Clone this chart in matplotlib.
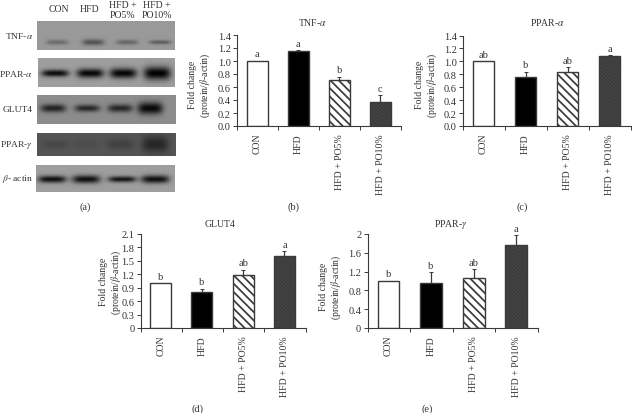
import matplotlib.pyplot as plt
import numpy as np

plt.rcParams['font.family'] = 'Liberation Serif'
plt.rcParams['font.size'] = 7
plt.rcParams['mathtext.fontset'] = 'stix'
plt.rcParams['hatch.linewidth'] = 1.25

W, H = 632, 414
GREY = '#3a3a3a'
TEXT = '#333333'

groups = ['CON', 'HFD', 'HFD + PO5%', 'HFD + PO10%']

tnf_vals = [1.0, 1.15, 0.71, 0.37]
tnf_err = [0.005, 0.015, 0.05, 0.10]
tnf_sig = ['a', 'a', 'b', 'c']
tnf_ticks = [0.0, 0.2, 0.4, 0.6, 0.8, 1.0, 1.2, 1.4]

ppara_vals = [1.0, 0.76, 0.84, 1.09]
ppara_err = [0.005, 0.08, 0.07, 0.005]
ppara_sig = ['ab', 'b', 'ab', 'a']
ppara_ticks = [0.0, 0.2, 0.4, 0.6, 0.8, 1.0, 1.2, 1.4]

glut_vals = [1.0, 0.81, 1.18, 1.60]
glut_err = [0.005, 0.07, 0.12, 0.12]
glut_sig = ['b', 'b', 'ab', 'a']
glut_ticks = [0, 0.3, 0.6, 0.9, 1.2, 1.5, 1.8, 2.1]

pparg_vals = [1.0, 0.96, 1.06, 1.77]
pparg_err = [0.005, 0.23, 0.19, 0.21]
pparg_sig = ['b', 'b', 'ab', 'a']
pparg_ticks = [0, 0.4, 0.8, 1.2, 1.6, 2]

# blot band darkness per lane
blot_names = ['TNF-$\\alpha$', 'PPAR-$\\alpha$', 'GLUT4', 'PPAR-$\\gamma$', '$\\beta$- actin']
blot_bg = [0.60, 0.62, 0.55, 0.33, 0.62]
blot_dark = [
    [0.18, 0.28, 0.20, 0.24],
    [0.58, 0.60, 0.60, 0.62],
    [0.42, 0.40, 0.40, 0.52],
    [0.05, 0.03, 0.08, 0.18],
    [0.56, 0.56, 0.54, 0.56],
]


def px_axes(fig, left, right, top, bottom):
    return fig.add_axes([left / W, 1 - bottom / H, (right - left) / W, (bottom - top) / H])


def bar_panel(fig, box, vals, err, sig, ticks, ticklabels):
    ax = px_axes(fig, *box)
    x = np.arange(4) + 0.49
    colors = ['white', 'black', 'white', '#4a4a4a']
    hatches = [None, None, '\\' * 4, '\\' * 9]
    ymax = ticks[-1]
    ax.errorbar(x, vals, yerr=[np.zeros(4), err], fmt='none', ecolor=GREY, elinewidth=0.9,
                capsize=1.5, capthick=0.7, zorder=1)
    for i in range(4):
        ax.bar(x[i], vals[i], width=0.51, color=colors[i], edgecolor=GREY, linewidth=1.0,
               hatch=hatches[i], zorder=2)
        ax.text(x[i], vals[i] + err[i] + ymax * 0.025, sig[i], ha='center', va='bottom', color=TEXT,
                fontsize=7.5, clip_on=False)
    ax.set_xlim(0, 4)
    ax.set_ylim(0, ymax)
    ax.set_yticks(ticks)
    ax.set_yticklabels(ticklabels, fontsize=7.5)
    ax.set_xticks(np.arange(5))
    ax.set_xticklabels([])
    ax.set_xticks(x, minor=True)
    ax.set_xticklabels(groups, minor=True, rotation=90)
    ax.tick_params(axis='x', which='minor', length=0, pad=5, colors=TEXT)
    ax.tick_params(axis='both', which='major', length=3, width=0.7, color=GREY, labelcolor=TEXT, pad=1.5)
    ax.spines['top'].set_visible(False)
    ax.spines['right'].set_visible(False)
    ax.spines['left'].set_color(GREY)
    ax.spines['bottom'].set_color(GREY)
    ax.patch.set_alpha(0)
    return ax


fig = plt.figure(figsize=(W / 100, H / 100), dpi=100)

bar_panel(fig, (237, 401, 36, 127), tnf_vals, tnf_err, tnf_sig, tnf_ticks, [f'{t:.1f}' for t in tnf_ticks])
bar_panel(fig, (463, 631, 36.5, 127), ppara_vals, ppara_err, ppara_sig, ppara_ticks, [f'{t:.1f}' for t in ppara_ticks])
bar_panel(fig, (140.5, 305.5, 235, 329), glut_vals, glut_err, glut_sig, glut_ticks, ['0'] + [f'{t:.1f}' for t in glut_ticks[1:]])
bar_panel(fig, (367.5, 538, 235, 329), pparg_vals, pparg_err, pparg_sig, pparg_ticks, ['0', '0.4', '0.8', '1.2', '1.6', '2'])

# overlay in pixel coordinates for blots and free text
ov = fig.add_axes([0, 0, 1, 1], zorder=5)
ov.set_xlim(0, W)
ov.set_ylim(H, 0)
ov.axis('off')
ov.patch.set_alpha(0)

blot_boxes = [(37, 175, 22, 51), (38, 175, 59, 88), (37, 176, 96, 125), (37, 176, 134, 157), (36, 175, 166, 193)]
blot_lanes = [[57, 93, 127, 160], [55, 90, 123, 157], [53, 87, 120, 150], [55, 85, 120, 155], [52, 86, 122, 155]]
band_y = [43, 74, 109, 145, 180]
band_hw = [11, 13.5, 12.5, 13, 14]
band_hh = [
    [2.5, 3, 2.5, 2],
    [3.5, 4.5, 5, 6.5],
    [4, 3.5, 4, 6],
    [4, 4, 5, 8],
    [3.5, 4, 3, 4],
]
label_y = [36, 74, 110, 145, 179]

for b in range(5):
    x0, x1, y0, y1 = blot_boxes[b]
    xx, yy = np.meshgrid(np.arange(x0, x1, 0.5), np.arange(y0, y1, 0.5))
    img = np.full(xx.shape, blot_bg[b])
    for lane in range(4):
        d = ((xx - blot_lanes[b][lane]) / band_hw[b]) ** 4 + ((yy - band_y[b]) / band_hh[b][lane]) ** 2
        img = img - blot_dark[b][lane] * np.exp(-d)
    ov.imshow(img, cmap='gray', vmin=0, vmax=1, extent=(x0, x1, y1, y0), aspect='auto', interpolation='bilinear')
    ov.text(33, label_y[b], blot_names[b], ha='right', va='center', fontsize=6.8, color=TEXT)
ov.set_xlim(0, W)
ov.set_ylim(H, 0)

ov.text(59, 9, 'CON', ha='center', va='center', color=TEXT)
ov.text(89, 9, 'HFD', ha='center', va='center', color=TEXT)
ov.text(123, 5, 'HFD +', ha='center', va='center', color=TEXT)
ov.text(122, 15, 'PO5%', ha='center', va='center', color=TEXT)
ov.text(157, 5, 'HFD +', ha='center', va='center', color=TEXT)
ov.text(157, 15, 'PO10%', ha='center', va='center', color=TEXT)

titles = ['TNF-$\\alpha$', 'PPAR-$\\alpha$', 'GLUT4', 'PPAR-$\\gamma$']
title_pos = [(313, 22), (547, 22), (220, 225), (451, 225)]
for t, (x, y) in zip(titles, title_pos):
    ov.text(x, y, t, ha='center', va='center', color=TEXT)

ylab_pos = [(200, 85), (427, 85), (111, 282), (331, 287)]
for x, y in ylab_pos:
    ov.text(x, y, 'Fold change\n(protein/$\\beta$-actin)', rotation=90, ha='center', va='center',
            color=TEXT, linespacing=1.1)

captions = ['(a)', '(b)', '(c)', '(d)', '(e)']
cap_pos = [(85, 207), (293, 207), (522, 207), (198, 409), (427, 409)]
for t, (x, y) in zip(captions, cap_pos):
    ov.text(x, y, t, ha='center', va='center', fontsize=7.5, color=TEXT)

fig.savefig('out.png', dpi=100)
